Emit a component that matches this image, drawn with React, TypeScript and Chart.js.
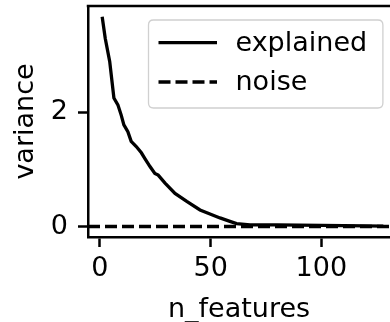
import React, { useEffect, useRef } from "react";
import { Chart, registerables } from "chart.js";

Chart.register(...registerables);

// ---- data ----
const nFeatures = [1, 2.4, 4.4, 6.3, 8.1, 9.6, 10.8, 12.6, 14.1, 16.4, 18.7, 20.3, 22.6, 24.8, 26.3, 29.4, 33.9, 39.2, 45.2, 49.7, 54.2, 58.7, 61.7, 67.8, 80, 90, 100, 110, 120, 128];
const explainedVariance = [3.67, 3.29, 2.89, 2.25, 2.13, 1.95, 1.78, 1.66, 1.49, 1.4, 1.29, 1.19, 1.05, 0.93, 0.9, 0.76, 0.58, 0.44, 0.29, 0.22, 0.15, 0.09, 0.05, 0.03, 0.027, 0.023, 0.019, 0.015, 0.011, 0.008];
const noiseX = [-5.4, 131];
const noiseVariance = [0, 0];
const xRange = [-5.4, 131];
const yRange = [-0.184, 3.86];
const xTicks = [0, 50, 100];
const yTicks = [0, 2];
const seriesLabels = ["explained", "noise"];
const xTitle = "n_features";
const yTitle = "variance";

const FONT = "'DejaVu Sans', sans-serif";
const FS = 27;
const LW = 3.3;
const DASH = [12, 5];

const framePlugin = {
  id: "frameAndLegend",
  afterDraw(chart: any) {
    const { ctx, chartArea: a } = chart;
    ctx.save();
    // top spine
    ctx.strokeStyle = "#000";
    ctx.lineWidth = 2.5;
    ctx.beginPath();
    ctx.moveTo(a.left - 1.25, a.top);
    ctx.lineTo(a.right, a.top);
    ctx.stroke();

    // legend box
    const bx = a.left + 60.5;
    const by = a.top + 14;
    const bw = 234.4;
    const bh = 88;
    const r = 5;
    ctx.beginPath();
    ctx.moveTo(bx + r, by);
    ctx.lineTo(bx + bw - r, by);
    ctx.quadraticCurveTo(bx + bw, by, bx + bw, by + r);
    ctx.lineTo(bx + bw, by + bh - r);
    ctx.quadraticCurveTo(bx + bw, by + bh, bx + bw - r, by + bh);
    ctx.lineTo(bx + r, by + bh);
    ctx.quadraticCurveTo(bx, by + bh, bx, by + bh - r);
    ctx.lineTo(bx, by + r);
    ctx.quadraticCurveTo(bx, by, bx + r, by);
    ctx.closePath();
    ctx.fillStyle = "rgba(255,255,255,0.8)";
    ctx.fill();
    ctx.strokeStyle = "#d0d0d0";
    ctx.lineWidth = 1.3;
    ctx.stroke();

    const rows = [by + 22.7, by + 62];
    chart.data.datasets.forEach((ds: any, i: number) => {
      const y = rows[i];
      ctx.strokeStyle = "#000";
      ctx.lineWidth = LW;
      ctx.setLineDash(ds.borderDash || []);
      ctx.beginPath();
      ctx.moveTo(bx + 10, y);
      ctx.lineTo(bx + 68.5, y);
      ctx.stroke();
      ctx.setLineDash([]);
      ctx.fillStyle = "#000";
      ctx.font = `${FS}px ${FONT}`;
      ctx.textBaseline = "middle";
      ctx.textAlign = "left";
      ctx.fillText(ds.label, bx + 87, y + 1);
    });
    ctx.restore();
  },
};

export default function App() {
  const ref = useRef<HTMLCanvasElement | null>(null);
  useEffect(() => {
    if (!ref.current) return;
    const chart = new Chart(ref.current, {
      type: "line",
      data: {
        datasets: [
          {
            label: seriesLabels[0],
            data: nFeatures.map((x, i) => ({ x, y: explainedVariance[i] })),
            borderColor: "#000",
            borderWidth: LW,
            pointRadius: 0,
            tension: 0,
            fill: false,
          },
          {
            label: seriesLabels[1],
            data: noiseX.map((x, i) => ({ x, y: noiseVariance[i] })),
            borderColor: "#000",
            borderWidth: LW,
            borderDash: DASH,
            pointRadius: 0,
            tension: 0,
            fill: false,
          },
        ],
      },
      options: {
        animation: false,
        responsive: false,
        devicePixelRatio: 1,
        layout: { padding: { top: 6, left: 0, right: 0, bottom: 0 } },
        plugins: { legend: { display: false }, tooltip: { enabled: false } },
        scales: {
          x: {
            type: "linear",
            min: xRange[0],
            max: xRange[1],
            afterBuildTicks: (s: any) => {
              s.ticks = xTicks.map((value) => ({ value }));
            },
            afterFit: (s: any) => {
              s.height = 85;
              s.paddingLeft = 0;
              s.paddingRight = 0;
            },
            grid: {
              drawOnChartArea: false,
              drawTicks: true,
              tickLength: 10,
              tickWidth: 2.5,
              tickColor: "#000",
              color: "#000",
            },
            border: { display: true, color: "#000", width: 2.5 },
            ticks: {
              color: "#000",
              font: { family: FONT, size: FS },
              padding: 6,
              maxRotation: 0,
              callback: (v: any) => String(v),
            },
            title: {
              display: true,
              text: xTitle,
              color: "#000",
              font: { family: FONT, size: FS },
              padding: { top: 0, bottom: -4 },
            },
          },
          y: {
            type: "linear",
            min: yRange[0],
            max: yRange[1],
            afterBuildTicks: (s: any) => {
              s.ticks = yTicks.map((value) => ({ value }));
            },
            afterFit: (s: any) => {
              s.width = 88;
              s.paddingTop = 0;
              s.paddingBottom = 0;
            },
            grid: {
              drawOnChartArea: false,
              drawTicks: true,
              tickLength: 10,
              tickWidth: 2.5,
              tickColor: "#000",
              color: "#000",
            },
            border: { display: true, color: "#000", width: 2.5 },
            ticks: {
              color: "#000",
              font: { family: FONT, size: FS },
              padding: 10,
              callback: (v: any) => String(v),
            },
            title: {
              display: true,
              text: yTitle,
              color: "#000",
              font: { family: FONT, size: FS },
              padding: { top: 10, bottom: 0 },
            },
          },
        },
      },
      plugins: [framePlugin],
    });
    return () => chart.destroy();
  }, []);

  return (
    <div style={{ position: "absolute", left: 0, top: 0, width: 390, height: 322, background: "#fff" }}>
      <canvas ref={ref} width={390} height={322} />
    </div>
  );
}
